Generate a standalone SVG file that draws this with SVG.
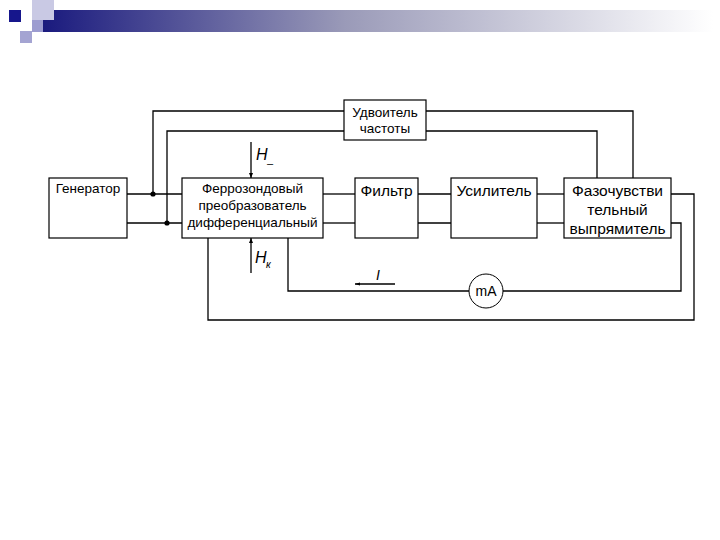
<svg xmlns="http://www.w3.org/2000/svg" width="720" height="540" viewBox="0 0 720 540">
  <defs>
    <linearGradient id="bar" x1="0" y1="0" x2="1" y2="0">
      <stop offset="0" stop-color="#1a1a7e"/>
      <stop offset="0.45" stop-color="#9a9ab8"/>
      <stop offset="1" stop-color="#ffffff"/>
    </linearGradient>
    <marker id="ah" viewBox="0 0 10 10" refX="10" refY="5" markerWidth="5" markerHeight="5" orient="auto" markerUnits="userSpaceOnUse">
      <path d="M0,1 L10,5 L0,9 z" fill="#000"/>
    </marker>
    <marker id="ah2" viewBox="0 0 10 10" refX="10" refY="5" markerWidth="7" markerHeight="5" orient="auto" markerUnits="userSpaceOnUse">
      <path d="M0,2 L10,5 L0,8 z" fill="#000"/>
    </marker>
  </defs>
  <style>
    .box { fill: #fff; stroke: #000; stroke-width: 1.2; }
    .wire { fill: none; stroke: #000; stroke-width: 1.3; }
    .s { font-family: "Liberation Sans", Arial, sans-serif; font-size: 13.5px; fill: #000; text-anchor: middle; }
    .l { font-family: "Liberation Sans", Arial, sans-serif; font-size: 15.5px; fill: #000; text-anchor: middle; }
    .it { font-family: "Liberation Sans", Arial, sans-serif; font-style: italic; fill: #000; }
  </style>
  <rect width="720" height="540" fill="#fff"/>

  <g id="decor">
    <rect x="43" y="10" width="670" height="22" fill="url(#bar)"/>
    <rect x="32" y="0" width="22" height="20" fill="#c9c9e4"/>
    <rect x="32" y="20" width="11" height="12" fill="#9c9cd0"/>
    <rect x="20" y="31" width="12" height="12" fill="#a4a4d2"/>
    <rect x="9" y="10" width="12" height="12" fill="#16168c"/>
  </g>

  <g id="connectors">
    <!-- generator to ferro -->
    <line class="wire" x1="127" y1="194" x2="182" y2="194"/>
    <line class="wire" x1="127" y1="223" x2="182" y2="223"/>
    <!-- ferro to filter -->
    <line class="wire" x1="323" y1="194" x2="355" y2="194"/>
    <line class="wire" x1="323" y1="223" x2="355" y2="223"/>
    <!-- filter to amplifier -->
    <line class="wire" x1="418" y1="194" x2="451" y2="194"/>
    <line class="wire" x1="418" y1="223" x2="451" y2="223"/>
    <!-- amplifier to phase rectifier -->
    <line class="wire" x1="537" y1="194" x2="564" y2="194"/>
    <line class="wire" x1="537" y1="223" x2="564" y2="223"/>
    <!-- generator taps to doubler -->
    <polyline class="wire" points="153,194 153,111 344,111"/>
    <polyline class="wire" points="167,223 167,131 344,131"/>
    <circle cx="153" cy="194" r="2.6" fill="#000"/>
    <circle cx="167" cy="223" r="2.6" fill="#000"/>
    <!-- doubler to phase rectifier -->
    <polyline class="wire" points="426,111 633,111 633,178"/>
    <polyline class="wire" points="426,131 597,131 597,178"/>
    <!-- output loops -->
    <polyline class="wire" points="671,194 694,194 694,320 208,320 208,238"/>
    <polyline class="wire" points="671,223 681,223 681,291 503,291"/>
    <polyline class="wire" points="469,291 288,291 288,238"/>
    <!-- field arrows -->
    <line class="wire" x1="251" y1="142" x2="251" y2="178" marker-end="url(#ah)"/>
    <line class="wire" x1="251" y1="273" x2="251" y2="238" marker-end="url(#ah)"/>
    <!-- current arrow -->
    <line class="wire" x1="395" y1="284" x2="355" y2="284" marker-end="url(#ah2)"/>
  </g>

  <g id="generator">
    <rect class="box" x="49" y="178" width="78" height="60"/>
    <text class="s" x="88" y="193">Генератор</text>
  </g>

  <g id="ferro">
    <rect class="box" x="182" y="178" width="141" height="60"/>
    <text class="s" x="252.5" y="193">Феррозондовый</text>
    <text class="s" x="252.5" y="210">преобразователь</text>
    <text class="s" x="252.5" y="227">дифференциальный</text>
  </g>

  <g id="doubler">
    <rect class="box" x="344" y="100" width="82" height="40"/>
    <text class="s" x="385" y="117">Удвоитель</text>
    <text class="s" x="385" y="133">частоты</text>
  </g>

  <g id="filter">
    <rect class="box" x="355" y="178" width="63" height="60"/>
    <text class="l" x="386.5" y="196">Фильтр</text>
  </g>

  <g id="amplifier">
    <rect class="box" x="451" y="178" width="86" height="60"/>
    <text class="l" x="494" y="196">Усилитель</text>
  </g>

  <g id="rectifier">
    <rect class="box" x="564" y="178" width="107" height="60"/>
    <text class="l" x="617.5" y="196">Фазочувстви</text>
    <text class="l" x="617.5" y="215">тельный</text>
    <text class="l" x="617.5" y="234">выпрямитель</text>
  </g>

  <g id="milliammeter">
    <circle cx="486" cy="291" r="17" fill="#fff" stroke="#000" stroke-width="1"/>
    <text class="s" x="486" y="296" style="font-size:14px">mA</text>
  </g>

  <g id="labels">
    <text class="it" x="256" y="160" font-size="16">H</text>
    <text class="it" x="267" y="167" font-size="11">–</text>
    <text class="it" x="255" y="263" font-size="16">H</text>
    <text class="it" x="266" y="268" font-size="10">к</text>
    <text class="it" x="376" y="280" font-size="14">I</text>
  </g>
</svg>
